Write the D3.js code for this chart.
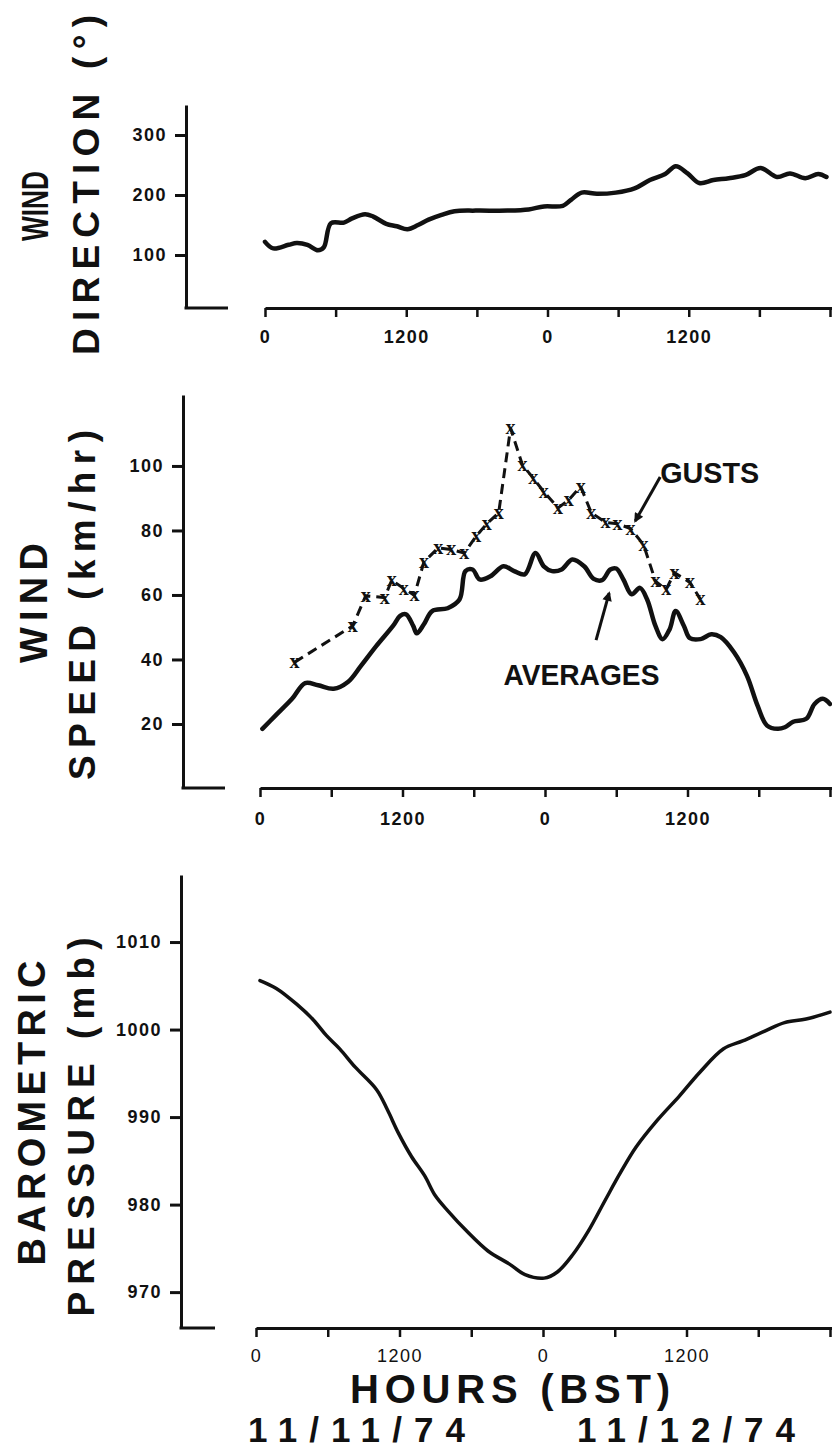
<!DOCTYPE html>
<html>
<head>
<meta charset="utf-8">
<script src="https://cdn.jsdelivr.net/npm/d3@7"></script>
<style>
  body { margin: 0; background: #fff; }
  svg { display: block; }
  text { fill: #111; font-family: "Liberation Sans", Arial, sans-serif; }
</style>
</head>
<body>
<svg id="chart" width="832" height="1453"></svg>
<script>
// hours since 0000 BST 11/11/74
const hourTicks = [0, 6, 12, 18, 24, 30, 36, 42, 48];

const dirTicks = [100, 200, 300];
const speedTicks = [20, 40, 60, 80, 100];
const presTicks = [970, 980, 990, 1000, 1010];

// wind direction (deg)
const dirHours = [0, 0.7, 2, 2.7, 3.6, 4.5, 5, 5.6, 6.7, 7.4, 8.5, 9.2, 10.3, 11.2, 12.1, 13, 13.9, 15, 16.1, 17.9, 20.6, 22.4, 23.7, 25.3, 26, 26.9, 28.2, 29.8, 31.4, 32.7, 34, 34.9, 35.9, 36.9, 38.1, 39.4, 40.8, 42.1, 43.5, 44.6, 45.9, 47, 47.7];
const dirValues = [122, 111, 117, 120, 117, 108, 113, 153, 154, 161, 168, 164, 152, 148, 143, 150, 159, 167, 173, 174, 174, 176, 181, 182, 192, 204, 202, 204, 211, 225, 235, 248, 236, 220, 225, 228, 233, 245, 230, 236, 228, 235, 230];

// wind speed averages (km/hr)
const avgHours = [0.2, 1.3, 2.7, 3.8, 4.9, 6.2, 7.4, 8.5, 9.8, 11.2, 11.8, 12.3, 12.9, 13.2, 13.8, 14.5, 15.8, 16.8, 17.3, 17.9, 18.5, 19.4, 20.5, 21.4, 22.3, 23.2, 23.9, 24.6, 25.4, 26.3, 27.3, 28.1, 28.8, 29.5, 30, 30.6, 31.3, 32, 32.6, 33.3, 33.9, 34.5, 35, 35.7, 36.2, 37.1, 38, 38.8, 39.9, 41, 41.9, 42.7, 43.6, 44.2, 44.9, 46, 46.7, 47.4, 48];
const avgValues = [18.5, 22.6, 27.8, 32.7, 32, 30.9, 33, 38, 44.2, 50.4, 53.5, 54, 50.4, 48.1, 50.9, 55, 55.9, 58.6, 67.4, 67.9, 64.8, 65.8, 68.9, 67.4, 66.4, 73, 68.9, 67.4, 67.9, 71, 68.9, 65, 64.6, 67.9, 68.2, 64.8, 60.2, 62.2, 58.6, 50.4, 46.3, 49.4, 55, 50.4, 46.6, 46.3, 47.8, 46.9, 42.3, 35, 25.7, 19.5, 18.5, 19, 20.7, 21.6, 26.2, 27.8, 26.2];

// wind speed gusts (km/hr)
const gustHours = [2.9, 7.8, 8.9, 10.5, 11.1, 12.1, 13, 13.8, 15, 16.1, 17.2, 18.2, 19.1, 20.1, 21.1, 22.1, 23, 23.9, 25.1, 26, 27, 27.9, 29.1, 30.1, 31.2, 32.3, 33.3, 34.2, 34.9, 36.2, 37.1];
const gustValues = [39.1, 50.4, 59.7, 59.2, 64.6, 62, 59.9, 70.2, 74.6, 74.1, 73, 78.2, 82.1, 85.5, 111.7, 100.3, 96.3, 92, 87, 89.5, 93.6, 85.5, 82.5, 82.1, 80.6, 75.6, 64.3, 61.7, 66.9, 63.9, 58.6];

// barometric pressure (mb)
const presHours = [0.33, 1.7, 3.4, 4.8, 5.9, 7, 8.3, 10.1, 11, 11.9, 13, 14.1, 15, 16.1, 17.6, 19.4, 21.2, 22.5, 24.1, 25.2, 26.5, 27.8, 29.2, 30.5, 31.8, 33.6, 35.4, 37.1, 39.1, 40.7, 42.5, 44.2, 46, 48];
const presValues = [1005.6, 1004.7, 1002.9, 1001.1, 999.3, 997.8, 995.7, 993.1, 990.8, 988.2, 985.5, 983.3, 981, 979.2, 977, 974.7, 973.2, 972, 971.6, 972.3, 974.3, 977, 980.5, 983.7, 986.6, 989.7, 992.4, 995.1, 997.8, 998.7, 999.8, 1000.8, 1001.2, 1002];

const svg = d3.select("#chart");
const ink = "#111";

const defs = svg.append("defs");
defs.append("marker")
    .attr("id", "head")
    .attr("viewBox", "0 0 10 10")
    .attr("refX", 8).attr("refY", 5)
    .attr("markerWidth", 5).attr("markerHeight", 3.2)
    .attr("orient", "auto")
    .append("path").attr("d", "M0,0 L10,5 L0,10 Z").attr("fill", ink);

function hourLabel(h) {
    if (h >= 48) return "";
    if (h % 24 === 0) return "0";
    if (h % 24 === 12) return "1200";
    return "";
}

// one panel: y axis, stub, broken x axis
function panel(p) {
    const x = d3.scaleLinear().domain([0, 48]).range([p.x0, p.x1]);
    const y = d3.scaleLinear().domain(p.domain).range([p.bottom, p.top]);

    const ya = svg.append("g")
        .attr("transform", `translate(${p.yx},0)`)
        .call(d3.axisLeft(y).tickValues(p.ticks).tickFormat(d3.format("d"))
            .tickSize(11).tickSizeOuter(0).tickPadding(8));
    ya.select(".domain").attr("stroke", ink).attr("stroke-width", 3);
    ya.selectAll(".tick line").attr("stroke", ink).attr("stroke-width", 3);
    ya.selectAll(".tick text")
        .attr("font-size", 18).attr("font-weight", "bold")
        .attr("letter-spacing", 1.5).attr("fill", ink)
        .style("font-family", "'Liberation Sans', Arial, sans-serif");

    svg.append("line")
        .attr("x1", p.yx - 1.5).attr("x2", p.stub)
        .attr("y1", p.bottom).attr("y2", p.bottom)
        .attr("stroke", ink).attr("stroke-width", 3);

    const xa = svg.append("g")
        .attr("transform", `translate(0,${p.bottom})`)
        .call(d3.axisBottom(x).tickValues(hourTicks).tickFormat(hourLabel).tickSize(9).tickSizeOuter(0));
    xa.select(".domain").attr("stroke", ink).attr("stroke-width", 3);
    xa.selectAll(".tick line").attr("stroke", ink).attr("stroke-width", 2.5);
    xa.selectAll(".tick text")
        .attr("y", p.labelOff).attr("dy", "0.35em")
        .attr("font-size", 18).attr("font-weight", p.xBold ? "bold" : "normal")
        .attr("letter-spacing", 1.5).attr("fill", ink)
        .style("font-family", "'Liberation Sans', Arial, sans-serif");
    svg.append("line")
        .attr("x1", p.x1).attr("x2", 832)
        .attr("y1", p.bottom + 0.5).attr("y2", p.bottom + 0.5)
        .attr("stroke", ink).attr("stroke-width", 3);

    return { x, y };
}

function vlabel(txt, cx, cy, len, fs, adjust) {
    const bx = cx + fs * 0.36;
    svg.append("text")
        .attr("transform", `translate(${bx},${cy}) rotate(-90)`)
        .attr("text-anchor", "middle")
        .attr("font-size", fs).attr("font-weight", "bold")
        .attr("textLength", len).attr("lengthAdjust", adjust || "spacing")
        .text(txt);
}

function plainText(txt, x, y, len, fs, adjust) {
    svg.append("text")
        .attr("x", x).attr("y", y)
        .attr("font-size", fs).attr("font-weight", "bold")
        .attr("textLength", len).attr("lengthAdjust", adjust || "spacing")
        .text(txt);
}

// ---- panel 1: wind direction ----
const p1 = panel({ x0: 265, x1: 830, yx: 186, top: 105, bottom: 308, domain: [11.7, 350], ticks: dirTicks, stub: 228, labelOff: 29, xBold: true });
svg.append("path")
    .datum(dirHours.map((h, i) => [h, dirValues[i]]))
    .attr("fill", "none").attr("stroke", ink).attr("stroke-width", 4.5)
    .attr("stroke-linejoin", "round").attr("stroke-linecap", "round")
    .attr("d", d3.line().x(d => p1.x(d[0])).y(d => p1.y(d[1])).curve(d3.curveCatmullRom));
vlabel("WIND", 35, 206, 70, 37, "spacingAndGlyphs");
vlabel("DIRECTION (°)", 86, 185, 340, 37);

// ---- panel 2: wind speed ----
const p2 = panel({ x0: 260, x1: 830, yx: 183, top: 395, bottom: 788, domain: [0.15, 122], ticks: speedTicks, stub: 225, labelOff: 31, xBold: true });
svg.append("path")
    .datum(avgHours.map((h, i) => [h, avgValues[i]]))
    .attr("fill", "none").attr("stroke", ink).attr("stroke-width", 4.5)
    .attr("stroke-linejoin", "round").attr("stroke-linecap", "round")
    .attr("d", d3.line().x(d => p2.x(d[0])).y(d => p2.y(d[1])).curve(d3.curveCatmullRom));

const gusts = gustHours.map((h, i) => [h, gustValues[i]]);
svg.append("path")
    .datum(gusts)
    .attr("fill", "none").attr("stroke", ink).attr("stroke-width", 3)
    .attr("stroke-dasharray", "10,6")
    .attr("d", d3.line().x(d => p2.x(d[0])).y(d => p2.y(d[1])));
svg.selectAll(".gust")
    .data(gusts)
    .enter().append("text")
    .attr("class", "gust")
    .attr("x", d => p2.x(d[0])).attr("y", d => p2.y(d[1]))
    .attr("dy", "0.3em")
    .attr("text-anchor", "middle")
    .attr("font-size", 20).attr("font-weight", "bold")
    .style("font-family", "'Liberation Serif', serif")
    .text("x");
vlabel("WIND", 33, 603, 120, 38);
vlabel("SPEED (km/hr)", 82, 605, 350, 37);

// annotations (data coordinates)
plainText("GUSTS", p2.x(33.7), p2.y(94.7), 99, 30, "spacingAndGlyphs");
svg.append("line")
    .attr("x1", p2.x(33.7)).attr("y1", p2.y(96.6))
    .attr("x2", p2.x(31.6)).attr("y2", p2.y(82.9))
    .attr("stroke", ink).attr("stroke-width", 3)
    .attr("marker-end", "url(#head)");
plainText("AVERAGES", p2.x(20.5), p2.y(32.1), 156, 30, "spacingAndGlyphs");
svg.append("line")
    .attr("x1", p2.x(28.3)).attr("y1", p2.y(46))
    .attr("x2", p2.x(29.4)).attr("y2", p2.y(60.6))
    .attr("stroke", ink).attr("stroke-width", 3)
    .attr("marker-end", "url(#head)");

// ---- panel 3: barometric pressure ----
const p3 = panel({ x0: 256, x1: 830, yx: 181, top: 875, bottom: 1328, domain: [965.9, 1017.66], ticks: presTicks, stub: 215, labelOff: 28, xBold: false });
svg.append("path")
    .datum(presHours.map((h, i) => [h, presValues[i]]))
    .attr("fill", "none").attr("stroke", ink).attr("stroke-width", 3.5)
    .attr("stroke-linejoin", "round").attr("stroke-linecap", "round")
    .attr("d", d3.line().x(d => p3.x(d[0])).y(d => p3.y(d[1])).curve(d3.curveCatmullRom));
vlabel("BAROMETRIC", 31, 1113, 305, 38);
vlabel("PRESSURE (mb)", 81, 1127, 379, 37);

plainText("HOURS (BST)", 350, 1403, 320, 40);
plainText("11/11/74", 248, 1442, 217, 35);
plainText("11/12/74", 577, 1442, 218, 35);
</script>
</body>
</html>
